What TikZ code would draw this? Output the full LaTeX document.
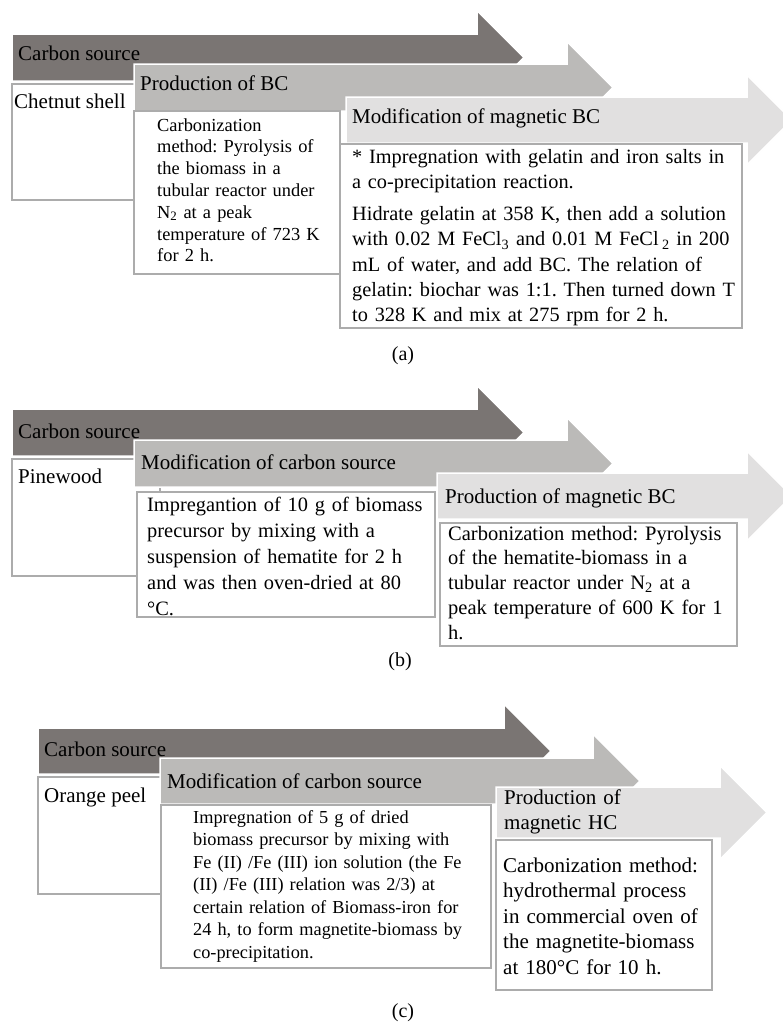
\documentclass[tikz,border=0pt]{standalone}
\usepackage{fontspec}
\setmainfont{Liberation Serif}
\frenchspacing
\definecolor{cDark}{RGB}{122,117,115}
\definecolor{cMid}{RGB}{187,186,184}
\definecolor{cLight}{RGB}{225,224,224}
\definecolor{cBorder}{RGB}{172,172,172}
\newcommand\procarrow[6]{%
  \path[#1] (#2,#3) -- (#5,#3) -- (#5,{(#3+#4)/2-(#6-#5)}) -- (#6,{(#3+#4)/2})
    -- (#5,{(#3+#4)/2+(#6-#5)}) -- (#5,#4) -- (#2,#4) -- cycle;}
\tikzset{
  arrD/.style={fill=cDark, draw=white, line width=1.5pt},
  arrM/.style={fill=cMid, draw=white, line width=1.5pt},
  arrL/.style={fill=cLight, draw=white, line width=1.5pt},
  wbox/.style={fill=white, draw=cBorder, line width=1.2pt},
  ttl/.style={anchor=base west, inner sep=0pt, font=\fontsize{21}{25.5}\selectfont\frenchspacing},
  bodyL/.style={anchor=base west, inner sep=0pt, align=left, text width=420pt, font=\fontsize{20.3}{25.3}\selectfont\frenchspacing},
  bodyS/.style={anchor=base west, inner sep=0pt, align=left, text width=320pt, font=\fontsize{18.4}{21.8}\selectfont\frenchspacing},
  capt/.style={inner sep=0pt, font=\fontsize{20}{24}\selectfont},
}
\begin{document}
\begin{tikzpicture}[x=1pt,y=-1pt]
\useasboundingbox (0,0) rectangle (783,1023);
% ---------------- (a)
\procarrow{arrD}{12}{34}{81}{477}{524}
\filldraw[wbox] (12,84) rectangle (160,200);
\node[ttl] (a1t) at (18,60) {Carbon source};
\node[ttl] (a1b) at (14,108) {Chetnut shell};
\procarrow{arrM}{134}{64}{111}{567}{613}
\filldraw[wbox] (134,111) rectangle (340,274);
\node[ttl] (a2t) at (140,90) {Production of BC};
\node[bodyS] (a2b) at (157,131) {Carbonization\\method: Pyrolysis of\\the biomass in a\\tubular reactor under\\N\textsubscript{2} at a peak\\temperature of 723 K\\for 2 h.};
\procarrow{arrL}{346}{97}{143}{747}{792}
\filldraw[wbox] (340,144) rectangle (742,328);
\node[ttl] (a3t) at (352,123) {Modification of magnetic BC};
\node[bodyL] (a3b) at (352,163) {* Impregnation with gelatin and iron salts in\\a co-precipitation reaction.\\[7pt]Hidrate gelatin at 358 K, then add a solution\\with 0.02 M FeCl\textsubscript{3} and 0.01 M FeCl\,\textsubscript{2} in 200\\mL of water, and add BC. The relation of\\gelatin: biochar was 1:1. Then turned down T\\to 328 K and mix at 275 rpm for 2 h.};
\node[capt] (capa) at (403,356) {(a)};
% ---------------- (b)
\procarrow{arrD}{12}{409}{456}{477}{524}
\filldraw[wbox] (12,459) rectangle (160,576);
\node[ttl] (b1t) at (18,438) {Carbon source};
\node[ttl] (b1b) at (18,483) {Pinewood};
\procarrow{arrM}{134}{440}{487}{567}{613}
\filldraw[wbox] (137,492) rectangle (435,617);
\node[ttl] (b2t) at (141,469) {Modification of carbon source};
\node[bodyL, font=\fontsize{20.4}{26}\selectfont] (b2b) at (147,511) {Impregantion of 10 g of biomass\\precursor by mixing with a\\suspension of hematite for 2 h\\and was then oven-dried at 80\\°C.};
\procarrow{arrL}{437}{473}{519}{747}{792}
\filldraw[wbox] (440,523) rectangle (737,646);
\node[ttl] (b3t) at (445,503) {Production of magnetic BC};
\node[bodyL, font=\fontsize{20.5}{24.8}\selectfont] (b3b) at (448,540) {Carbonization method: Pyrolysis\\of the hematite-biomass in a\\tubular reactor under N\textsubscript{2} at a\\peak temperature of 600 K for 1\\h.};
\node[capt] (capb) at (400,662) {(b)};
% ---------------- (c)
\procarrow{arrD}{38}{728}{774}{504}{551}
\filldraw[wbox] (38,777) rectangle (186,894);
\node[ttl] (c1t) at (44,756) {Carbon source};
\node[ttl] (c1b) at (44,802) {Orange peel};
\procarrow{arrM}{160}{758}{804}{593}{640}
\filldraw[wbox] (161,805) rectangle (491,968);
\node[ttl] (c2t) at (167,788) {Modification of carbon source};
\node[bodyS, font=\fontsize{18.3}{22.5}\selectfont] (c2b) at (193,823) {Impregnation of 5 g of dried\\biomass precursor by mixing with\\Fe (II) /Fe (III) ion solution (the Fe\\(II) /Fe (III) relation was 2/3) at\\certain relation of Biomass-iron for\\24 h, to form magnetite-biomass by\\co-precipitation.};
\procarrow{arrL}{496}{787}{838}{720}{767}
\filldraw[wbox] (496,840) rectangle (712,990);
\node[ttl, align=left, text width=200pt] (c3t) at (504,804) {Production of\\magnetic HC};
\node[bodyL, font=\fontsize{21}{25.5}\selectfont] (c3b) at (503,872) {Carbonization method:\\hydrothermal process\\in commercial oven of\\the magnetite-biomass\\at 180°C for 10 h.};
\node[capt] (capc) at (403,1013) {(c)};
\end{tikzpicture}
\end{document}
